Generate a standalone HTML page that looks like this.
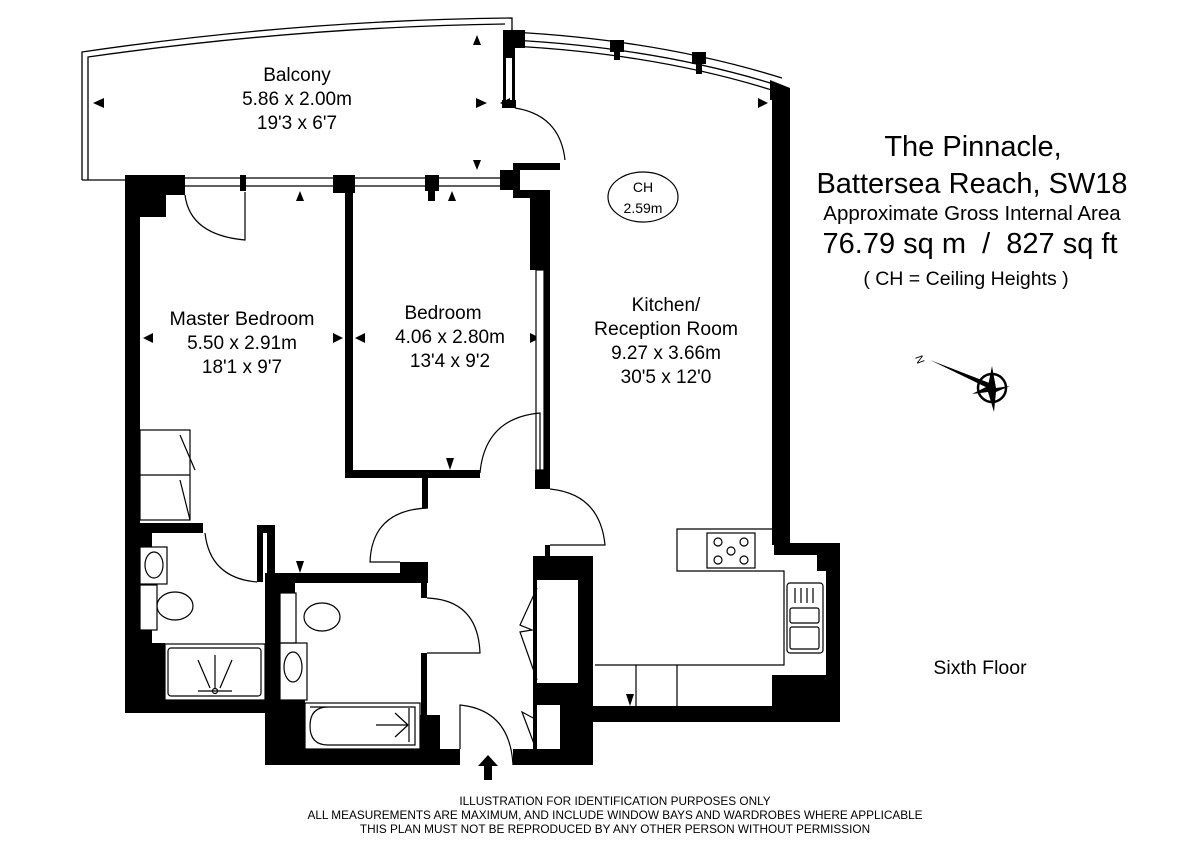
<!DOCTYPE html>
<html><head><meta charset="utf-8"><style>
html,body{margin:0;padding:0;background:#fff;}
svg{display:block}
text{font-family:"Liberation Sans",sans-serif;fill:#000}
</style></head><body>
<svg width="1200" height="848" viewBox="0 0 1200 848" xmlns="http://www.w3.org/2000/svg">
<path d="M82,180 L82,52 Q300,20 512,18 L512,30" fill="none" stroke="#000" stroke-width="1.3"/>
<path d="M88,180 L88,57 Q300,27 505,24" fill="none" stroke="#000" stroke-width="1.3"/>
<line x1="82" y1="180" x2="125" y2="180" stroke="#000" stroke-width="1.3"/>
<path d="M512,32 Q660,40 782,78" fill="none" stroke="#000" stroke-width="1.3"/>
<path d="M512,40 Q660,48 780,86" fill="none" stroke="#000" stroke-width="1.3"/>
<path d="M512,46 Q660,54 778,92" fill="none" stroke="#000" stroke-width="1.3"/>
<g fill="#000">
<rect x="503" y="30" width="22" height="18"/><rect x="503" y="48" width="12" height="10"/>
<rect x="610" y="40" width="14" height="12"/><rect x="614" y="52" width="6" height="8"/>
<rect x="692" y="52" width="14" height="12"/><rect x="696" y="64" width="6" height="10"/>
<polygon points="770,80 790,88 790,100 770,100"/>
<rect x="503" y="58" width="3" height="42"/><rect x="512" y="58" width="3" height="42"/>
<rect x="502" y="100" width="14" height="8"/>
<rect x="125" y="175" width="60" height="20"/><rect x="140" y="195" width="26" height="22"/>
<rect x="125" y="175" width="15" height="350"/>
<rect x="240" y="175" width="6" height="16"/>
<rect x="333" y="175" width="22" height="18"/><rect x="345" y="175" width="8" height="303"/>
<rect x="425" y="175" width="14" height="16"/><rect x="428" y="191" width="7" height="10"/>
<rect x="500" y="170" width="20" height="20"/><rect x="513" y="163" width="47" height="7"/>
<rect x="513" y="190" width="37" height="8"/>
<rect x="530" y="190" width="20" height="80"/><rect x="544" y="190" width="6" height="299"/>
<rect x="535" y="470" width="15" height="19"/>
<rect x="345" y="470" width="135" height="8"/>
<rect x="422" y="478" width="6" height="30"/>
<rect x="400" y="562" width="28" height="12"/>
<rect x="421" y="562" width="6" height="36"/>
<rect x="421" y="653" width="6" height="100"/>
<rect x="772" y="95" width="18" height="450"/>
<polygon points="774,543 840,543 840,722 593,722 593,706 772,706 772,675 826,675 826,571 817,571 817,555 774,555"/>
<rect x="125" y="523" width="78" height="10"/>
<rect x="125" y="525" width="15" height="188"/>
<rect x="140" y="533" width="12" height="14"/>
<rect x="140" y="630" width="12" height="15"/>
<rect x="125" y="643" width="40" height="70"/>
<rect x="125" y="700" width="150" height="13"/>
<rect x="257" y="525" width="18" height="8"/><rect x="257" y="525" width="6" height="57"/>
<rect x="267" y="525" width="8" height="50"/>
<rect x="265" y="573" width="163" height="10"/>
<rect x="265" y="573" width="15" height="192"/>
<rect x="280" y="573" width="15" height="20"/>
<rect x="280" y="700" width="25" height="65"/>
<rect x="265" y="749" width="195" height="16"/>
<rect x="420" y="715" width="20" height="40"/>
<rect x="513" y="749" width="80" height="16"/>
<path d="M533,556 H593 V765 H533 Z M537,580 V683 H578 V580 Z M537,705 V749 H560 V705 Z" fill-rule="evenodd"/>
<rect x="545" y="545" width="5" height="12"/>
<polygon points="93,103 104,98 104,108"/>
<polygon points="487,103 476,98 476,108"/>
<polygon points="500,103 510,98 510,108"/>
<polygon points="768,103 758,98 758,108"/>
<polygon points="477,35 473,45 481,45"/>
<polygon points="477,170 473,160 481,160"/>
<polygon points="300,191 296,201 304,201"/>
<polygon points="452,191 448,201 456,201"/>
<polygon points="143,338 153,333 153,343"/>
<polygon points="343,338 333,333 333,343"/>
<polygon points="355,338 365,333 365,343"/>
<polygon points="540,338 530,333 530,343"/>
<polygon points="450,470 446,458 454,458"/>
<polygon points="300,573 296,561 304,561"/>
<polygon points="630,706 626,694 634,694"/>
<polygon points="488,755 478,766 484,766 484,780 492,780 492,766 498,766"/>
</g>
<g fill="none" stroke="#000" stroke-width="1.2">
<line x1="185" y1="178" x2="500" y2="178"/><line x1="185" y1="186" x2="500" y2="186"/>
<rect x="536" y="270" width="8" height="200" fill="#fff"/>
<path d="M515,108 Q560,115 565,160"/>
<path d="M185,195 Q190,235 245,240 L245,192"/>
<path d="M480,473 Q485,418 540,413 L540,470"/>
<path d="M428,508 Q372,510 370,562 L400,562"/>
<path d="M550,489 Q600,494 605,545 L550,545"/>
<path d="M205,533 Q210,578 257,582"/>
<path d="M427,598 Q478,600 480,653 L427,653"/>
<path d="M460,749 L460,705 Q510,710 513,765"/>
<rect x="140" y="430" width="50" height="90"/><line x1="140" y1="475" x2="190" y2="475"/>
<path d="M180,435 L195,470 M180,480 L190,520"/>
<path d="M537,588 L520,625 L532,630 L520,632 L537,680"/>
<path d="M537,720 L522,712 L536,749"/>
<rect x="140" y="547" width="27" height="37"/><ellipse cx="154" cy="565" rx="9" ry="13"/>
<rect x="140" y="585" width="17" height="45"/><ellipse cx="175" cy="606" rx="18" ry="14"/>
<rect x="165" y="644" width="100" height="56"/><rect x="168" y="648" width="93" height="48" rx="3"/>
<path d="M198,660 L210,688 M232,660 L220,688 M215,655 L215,688 M198,691 L232,691"/>
<circle cx="215" cy="691" r="2.5"/>
<rect x="280" y="593" width="16" height="50"/><rect x="280" y="643" width="27" height="57"/>
<ellipse cx="322" cy="617" rx="18" ry="14"/>
<ellipse cx="293" cy="667" rx="9" ry="15"/>
<rect x="305" y="703" width="115" height="46"/><path d="M310,707 L415,707 L415,745 L328,745 Q310,745 310,726 Q310,707 328,707"/>
<path d="M376,725 L408,725 M395,713 L408,725 M395,737 L408,725 M409,708 V742"/>
<path d="M773,529 L677,529 L677,571 L784,571 L784,665 L595,665"/>
<rect x="707" y="533" width="48" height="35"/>
<circle cx="718" cy="542" r="4"/><circle cx="744" cy="542" r="4"/><circle cx="718" cy="560" r="4"/><circle cx="744" cy="560" r="4"/><circle cx="731" cy="551" r="4"/>
<line x1="636" y1="665" x2="636" y2="706"/><line x1="677" y1="665" x2="677" y2="706"/>
<rect x="787" y="583" width="36" height="70" rx="3"/>
<rect x="790" y="608" width="29" height="15" rx="2"/><rect x="790" y="627" width="29" height="22" rx="2"/>
<path d="M795,588 V603 M801,588 V603 M807,588 V603 M813,588 V603"/>
<ellipse cx="643" cy="197" rx="35" ry="25"/>
<circle cx="992" cy="388" r="14" stroke-width="2.5"/>
</g>
<g fill="#000">
<polygon points="930,360 992,384 996,392"/>
<polygon points="992,366 996,388 1010,386 996,392 994,412 988,392 972,394 988,386"/>
</g>
<text x="915" y="357" font-size="11" transform="rotate(70 915 357)">N</text>
<g font-size="19" text-anchor="middle">
<text x="297" y="81">Balcony</text><text x="297" y="105">5.86 x 2.00m</text><text x="297" y="129">19'3 x 6'7</text>
<text x="242" y="325" textLength="145" lengthAdjust="spacingAndGlyphs">Master Bedroom</text><text x="242" y="349">5.50 x 2.91m</text><text x="242" y="373">18'1 x 9'7</text>
<text x="443" y="319">Bedroom</text><text x="450" y="343">4.06 x 2.80m</text><text x="450" y="367">13'4 x 9'2</text>
<text x="666" y="311">Kitchen/</text><text x="666" y="335" textLength="144" lengthAdjust="spacingAndGlyphs">Reception Room</text><text x="666" y="359">9.27 x 3.66m</text><text x="666" y="383">30'5 x 12'0</text>
<text x="643" y="192" font-size="14">CH</text><text x="643" y="213" font-size="14">2.59m</text>
<text x="973" y="156" font-size="29">The Pinnacle,</text>
<text x="972" y="193" font-size="29">Battersea Reach, SW18</text>
<text x="972" y="220" font-size="20.5">Approximate Gross Internal Area</text>
<text x="970" y="253" font-size="29" xml:space="preserve">76.79 sq m  /  827 sq ft</text>
<text x="966" y="285" font-size="19.5">( CH = Ceiling Heights )</text>
<text x="980" y="674" font-size="19.5">Sixth Floor</text>
<text x="615" y="805" font-size="11.8">ILLUSTRATION FOR IDENTIFICATION PURPOSES ONLY</text>
<text x="615" y="819" font-size="11.8">ALL MEASUREMENTS ARE MAXIMUM, AND INCLUDE WINDOW BAYS AND WARDROBES WHERE APPLICABLE</text>
<text x="615" y="833" font-size="11.8">THIS PLAN MUST NOT BE REPRODUCED BY ANY OTHER PERSON WITHOUT PERMISSION</text>
</g>
</svg>
</body></html>
